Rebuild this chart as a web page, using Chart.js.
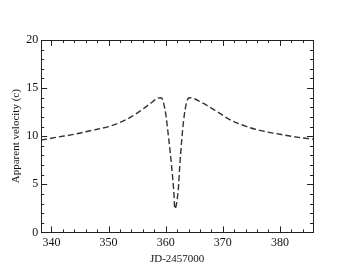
<!DOCTYPE html>
<html>
<head>
<meta charset="utf-8">
<script src="https://cdn.jsdelivr.net/npm/chart.js@4.4.0/dist/chart.umd.min.js"></script>
<style>
  html, body { margin: 0; padding: 0; background: #fff; }
  #wrap { width: 353px; height: 273px; }
</style>
</head>
<body>
<div id="wrap"><canvas id="velChart" width="353" height="273"></canvas></div>
<script>
var jdDays = [338.2, 341, 344, 347, 350, 353, 355.5, 357.3, 358.6, 359.2, 359.9, 360.5, 361.05, 361.45, 361.6,
  362.2, 362.5, 363.1, 363.7, 364.2, 366.6, 368.9, 371.3, 374.2, 376.5, 380, 383, 385.8];
var velocity = [9.6, 9.9, 10.2, 10.6, 11.0, 11.7, 12.6, 13.4, 13.95, 14.0, 12.7, 9.9, 6.8, 4.0, 2.45,
  4.4, 7.2, 11.4, 13.6, 14.0, 13.4, 12.6, 11.7, 11.0, 10.6, 10.2, 9.9, 9.7];
var xTickVals = [340, 350, 360, 370, 380];
var yTickVals = [0, 5, 10, 15, 20];

var axisColor = '#222';
var fontFam = '"Liberation Serif", "DejaVu Serif", serif';

// grace-style inward ticks on all four sides
var inwardTicks = {
  id: 'inwardTicks',
  afterDraw: function (chart) {
    var ctx = chart.ctx, a = chart.chartArea;
    var xs = chart.scales.x, ys = chart.scales.y;
    ctx.save();
    ctx.strokeStyle = axisColor;
    ctx.lineWidth = 1;
    ctx.strokeRect(Math.round(a.left) + 0.5, Math.round(a.top) + 0.5,
      Math.round(a.right - a.left), Math.round(a.bottom - a.top));
    ctx.beginPath();
    for (var v = Math.ceil(xs.min / 2) * 2; v <= xs.max; v += 2) {
      var px = Math.round(xs.getPixelForValue(v)) + 0.5;
      var len = v % 10 === 0 ? 6 : 3;
      ctx.moveTo(px, a.bottom); ctx.lineTo(px, a.bottom - len);
      ctx.moveTo(px, a.top); ctx.lineTo(px, a.top + len);
    }
    for (var w = ys.min; w <= ys.max; w += 1) {
      var py = Math.round(ys.getPixelForValue(w)) + 0.5;
      var l2 = w % 5 === 0 ? 6 : 3;
      ctx.moveTo(a.left, py); ctx.lineTo(a.left + l2, py);
      ctx.moveTo(a.right, py); ctx.lineTo(a.right - l2, py);
    }
    ctx.stroke();
    ctx.restore();
  }
};

var points = jdDays.map(function (d, i) { return { x: d, y: velocity[i] }; });

new Chart(document.getElementById('velChart').getContext('2d'), {
  type: 'line',
  data: { datasets: [{
    data: points,
    borderColor: '#333',
    borderWidth: 1.4,
    borderDash: [6, 3],
    pointRadius: 0,
    fill: false,
    cubicInterpolationMode: 'monotone'
  }]},
  options: {
    responsive: false,
    animation: false,
    layout: { padding: { left: 4, right: 40, top: 40, bottom: 3 } },
    plugins: { legend: { display: false }, tooltip: { enabled: false } },
    scales: {
      x: {
        type: 'linear', min: 338.2, max: 385.8,
        afterBuildTicks: function (s) { s.ticks = xTickVals.map(function (v) { return { value: v }; }); },
        grid: { display: false, drawTicks: false },
        border: { display: false },
        ticks: { color: '#111', font: { family: fontFam, size: 12 }, padding: 3, maxRotation: 0 },
        title: { display: true, text: 'JD-2457000', color: '#111', font: { family: fontFam, size: 11 }, padding: { top: 0, bottom: 4 } }
      },
      y: {
        min: 0, max: 20,
        afterBuildTicks: function (s) { s.ticks = yTickVals.map(function (v) { return { value: v }; }); },
        grid: { display: false, drawTicks: false },
        border: { display: false },
        ticks: { color: '#111', font: { family: fontFam, size: 12 }, padding: 3 },
        title: { display: true, text: 'Apparent velocity (c)', color: '#111', font: { family: fontFam, size: 11 }, padding: { top: 6, bottom: 0 } }
      }
    }
  },
  plugins: [inwardTicks]
});
</script>
</body>
</html>
